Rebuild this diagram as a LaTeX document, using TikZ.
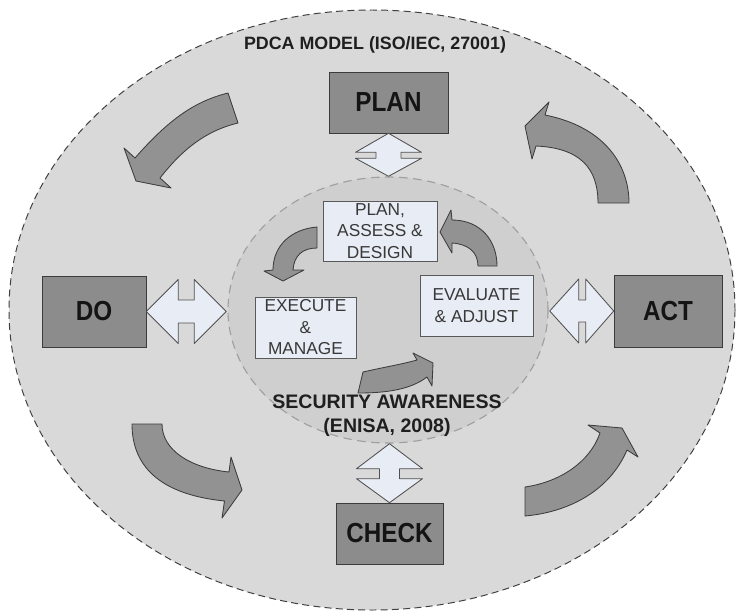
\documentclass[tikz,border=0pt]{standalone}
\usepackage{fontspec}
\setmainfont{Liberation Sans}
\newfontfamily\phasefont{Liberation Sans}[FakeStretch=0.88]

\definecolor{outerfill}{HTML}{D9D9D9}
\definecolor{innerfill}{HTML}{CFCFCF}
\definecolor{boxgray}{HTML}{8C8C8C}
\definecolor{paleblue}{HTML}{E8ECF5}
\definecolor{edge}{HTML}{3C3C3C}

\begin{document}
\begin{tikzpicture}[x=0.025cm, y=-0.025cm,
	phase/.style={draw=edge, fill=boxgray, text=black!92, font=\phasefont\fontsize{19.6}{22}\selectfont\bfseries},
	task/.style={draw=edge!85, fill=paleblue, inner sep=0pt, align=center, text=black!78, font=\fontsize{12.3}{15.3}\selectfont},
	heading/.style={align=center, text=black!88, font=\bfseries},
	bendarrow/.style={draw=edge, fill=boxgray!95, line width=0.6pt, line join=round},
	twoway/.style={draw=edge!90, fill=paleblue, line width=0.6pt, line join=round}]
	\useasboundingbox (0,0) rectangle (736,612);
	\fill[white] (0,0) rectangle (736,612);

	%outer and inner cycle
	\filldraw[fill=outerfill, draw=black!75, line width=0.7pt, dash pattern=on 5pt off 3pt] (372,310) ellipse [x radius=363, y radius=300];
	\filldraw[fill=innerfill, draw=gray!75, line width=0.8pt, dash pattern=on 6pt off 4pt] (388,310) ellipse [x radius=160, y radius=133];

	%PDCA phases
	\node[phase, minimum width=2.975cm, minimum height=1.525cm] (plan) at (388.5,102.5) {PLAN};
	\node[phase, minimum width=2.6cm, minimum height=1.775cm] (do) at (94,311.5) {DO};
	\node[phase, minimum width=2.7cm, minimum height=1.8cm] (act) at (668,311) {ACT};
	\node[phase, minimum width=2.675cm, minimum height=1.525cm] (check) at (389.5,533.5) {CHECK};

	%awareness tasks
	\node[task, minimum width=2.85cm, minimum height=1.5cm] (design) at (380,231) {PLAN,\\ASSESS \&\\DESIGN};
	\node[task, minimum width=2.825cm, minimum height=1.525cm] (adjust) at (476.5,305.5) {EVALUATE\\\& ADJUST};
	\node[task, minimum width=2.525cm, minimum height=1.525cm] (manage) at (305.5,327.5) {EXECUTE\\\&\\MANAGE};

	%titles
	\node[heading, font=\fontsize{12.7}{15}\selectfont\bfseries] (pdca) at (375,45) {PDCA MODEL (ISO/IEC, 27001)};
	\node[heading, font=\fontsize{13.9}{17}\selectfont\bfseries] (awareness) at (387,416) {SECURITY AWARENESS\\(ENISA, 2008)};

	%double arrows
	\filldraw[twoway] (plan.south) -- ++(33,19) -- ++(-20.5,0) -- ++(0,6) -- ++(20.5,0) -- ++(-33,18) -- ++(-33,-18) -- ++(20.5,0) -- ++(0,-6) -- ++(-20.5,0) -- cycle;
	\filldraw[twoway] (check.north) -- ++(33,-24) -- ++(-23,0) -- ++(0,-10) -- ++(23,0) -- ++(-33,-25) -- ++(-33,25) -- ++(23,0) -- ++(0,10) -- ++(-23,0) -- cycle;
	\filldraw[twoway] (do.east) -- ++(32,-32) -- ++(0,20.5) -- ++(16,0) -- ++(0,-20.5) -- ++(32,32) -- ++(-32,32) -- ++(0,-20.5) -- ++(-16,0) -- ++(0,20.5) -- cycle;
	\filldraw[twoway] (act.west) -- ++(-28,-32) -- ++(0,21) -- ++(-7,0) -- ++(0,-21) -- ++(-29,32) -- ++(29,32) -- ++(0,-21) -- ++(7,0) -- ++(0,21) -- cycle;

	%outer curved arrows
	\filldraw[bendarrow] (228,93) .. controls (196,101) and (170,118) .. (135,158) -- (124,148) -- (136,181) -- (171,188) -- (160,178) .. controls (182,150) and (205,131) .. (238,123) -- cycle;
	\filldraw[bendarrow] (598,203) -- (629,203) .. controls (629,165) and (605,127) .. (545,115) -- (549,102) -- (525,126) -- (532,159) -- (536,146) .. controls (580,148) and (598,168) .. (598,203) -- cycle;
	\filldraw[bendarrow] (132,424) .. controls (132,470) and (165,495) .. (224.5,501) -- (222,518) -- (242,490) -- (231,457) -- (229,472) .. controls (190,468) and (162,450) .. (162,424) -- cycle;
	\filldraw[bendarrow] (525,487) .. controls (560,482) and (590,462) .. (600,433) -- (588,425) -- (622,428) -- (638,457) -- (627,450) .. controls (610,490) and (570,512) .. (525,516) -- cycle;

	%inner curved arrows
	\filldraw[bendarrow] (317,227) .. controls (292,229) and (273,245) .. (273,270) -- (264,271) -- (283,281) -- (304,270) -- (293,270) .. controls (294,256) and (302,248) .. (317,248) -- cycle;
	\filldraw[bendarrow] (497,266) .. controls (497,240) and (480,220) .. (452,220) -- (451,210) -- (440,232) -- (452,253) -- (452,243) .. controls (468,244) and (478,252) .. (478,266) -- cycle;
	\filldraw[bendarrow] (363,372) .. controls (385,367) and (403,364) .. (417,360) -- (413,353) -- (433,363) -- (432,386) -- (427,377) .. controls (410,390) and (385,393) .. (358,393) -- cycle;

\end{tikzpicture}
\end{document}
